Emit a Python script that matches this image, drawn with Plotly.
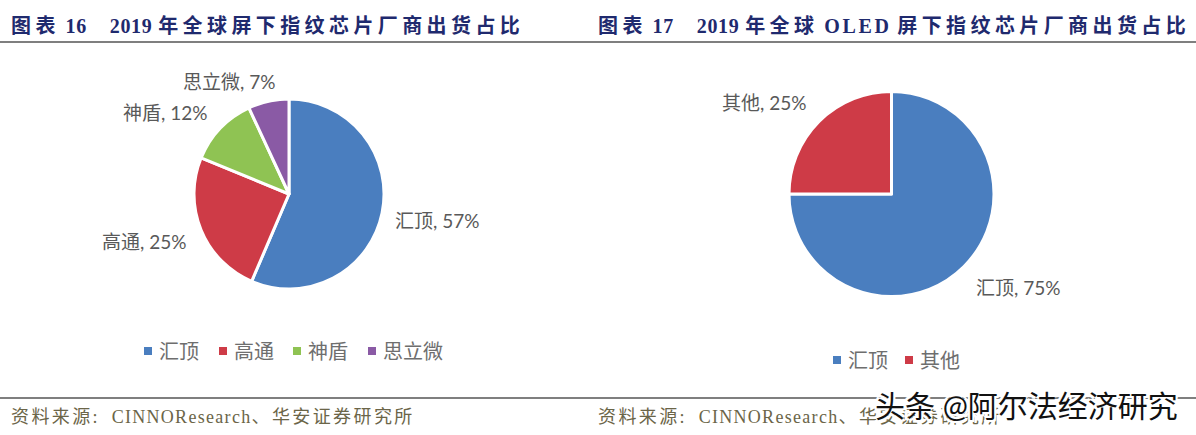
import re
import plotly.graph_objects as go

W = 1196
H = 435

# left chart
left_names = ["汇顶", "高通", "神盾", "思立微"]
left_values = [57, 25, 12, 7]
left_colors = ["#4A7EBF", "#CE3B47", "#8FC353", "#8A5AA5"]

# right chart
right_names = ["汇顶", "其他"]
right_values = [75, 25]
right_colors = ["#4A7EBF", "#CE3B47"]

title_left = "图表 16    2019 年全球屏下指纹芯片厂商出货占比"
title_right = "图表 17    2019 年全球 OLED 屏下指纹芯片厂商出货占比"
source_text = "资料来源:  CINNOResearch、华安证券研究所"
watermark = "头条 @阿尔法经济研究"

SERIF = "Liberation Serif, Noto Sans CJK SC"
SANS = "Lato, Noto Sans CJK SC"
LABEL_GREY = "#595959"
LEGEND_GREY = "#6E6E6E"


def px(x):
    return x / W


def py(y):
    return 1 - y / H


def domain(cx, cy, r):
    return dict(x=[px(cx - r), px(cx + r)], y=[py(cy + r), py(cy - r)])


def tracked(text, cjk, latin, caps=None):
    # the report's headers are set with wide letter spacing
    parts = re.findall(r"[\u3000-\u9fff:]+|[A-Z]{4}\b|[^\u3000-\u9fffA-Z:]+|[A-Za-z]+", text)
    out = ""
    for p in parts:
        if re.match(r"[\u3000-\u9fff:]", p):
            gap = cjk
        elif caps is not None and p == "OLED":
            gap = caps
        else:
            gap = latin
        out += f'<span style="letter-spacing:{gap}px">{p}</span>'
    return out


def add_text(fig, x, y, text, size, color, font=SANS, anchor="left", **kw):
    fig.add_annotation(
        x=px(x), y=py(y), xref="paper", yref="paper", text=text, showarrow=False,
        xanchor=anchor, yanchor="middle", borderpad=0,
        font=dict(family=font, size=size, color=color, **kw),
    )


def add_legend(fig, items, y):
    for (x, name, color) in items:
        fig.add_shape(
            type="rect", xref="paper", yref="paper",
            x0=px(x), x1=px(x + 8), y0=py(y - 4), y1=py(y + 4),
            fillcolor=color, line_width=0,
        )
        add_text(fig, x + 14, y, name, 20, LEGEND_GREY)


fig = go.Figure()
fig.add_trace(
    go.Pie(
        labels=left_names, values=left_values, sort=False, direction="clockwise",
        rotation=0, textinfo="none", hoverinfo="label+percent", showlegend=False,
        marker=dict(colors=left_colors, line=dict(color="white", width=3)),
        domain=domain(289, 194, 95),
    )
)
fig.add_trace(
    go.Pie(
        labels=right_names, values=right_values, sort=False, direction="clockwise",
        rotation=0, textinfo="none", hoverinfo="label+percent", showlegend=False,
        marker=dict(colors=right_colors, line=dict(color="white", width=3)),
        domain=domain(891.5, 194, 102.5),
    )
)

# rules under the headers and above the sources
for y in [42, 398]:
    fig.add_shape(
        type="line", xref="paper", yref="paper", x0=0, x1=1, y0=py(y), y1=py(y),
        line=dict(color="#7F7F7F", width=2),
    )

add_text(fig, 10, 26, tracked(title_left, 4.4, 0.7), 20, "#1F2A6E", SERIF, weight="bold")
add_text(fig, 597, 26, tracked(title_right, 4.4, 0.7, caps=2.7), 20, "#1F2A6E", SERIF, weight="bold")
add_text(fig, 10, 417, tracked(source_text, 2.4, 1.3), 18, "#6B6548", SERIF)
add_text(fig, 597, 417, tracked(source_text, 2.4, 1.3), 18, "#6B6548", SERIF)

# data labels
left_label_pos = [(394.5, 220), (100.5, 241), (122, 112), (182, 82)]
for (x, y), n, v in zip(left_label_pos, left_names, left_values):
    add_text(fig, x, y, f"{n}, {v}%", 19, LABEL_GREY)
right_label_pos = [(975, 287), (720.5, 103)]
for (x, y), n, v in zip(right_label_pos, right_names, right_values):
    add_text(fig, x, y, f"{n}, {v}%", 19, LABEL_GREY)

add_legend(fig, list(zip([144, 219, 293, 368], left_names, left_colors)), 351)
add_legend(fig, list(zip([833, 905], right_names, right_colors)), 360)

add_text(
    fig, 874, 405, watermark, 30, "#111111",
    shadow="-2px -2px 0 #fff, 2px -2px 0 #fff, -2px 2px 0 #fff, 2px 2px 0 #fff",
)

fig.update_layout(
    width=W, height=H, margin=dict(l=0, r=0, t=0, b=0),
    paper_bgcolor="white", plot_bgcolor="white",
)

# page default body margin would shift everything by 8px
fig.write_html(
    "out.html",
    config={"displayModeBar": False},
    post_script="document.body.style.margin = '0';",
)
